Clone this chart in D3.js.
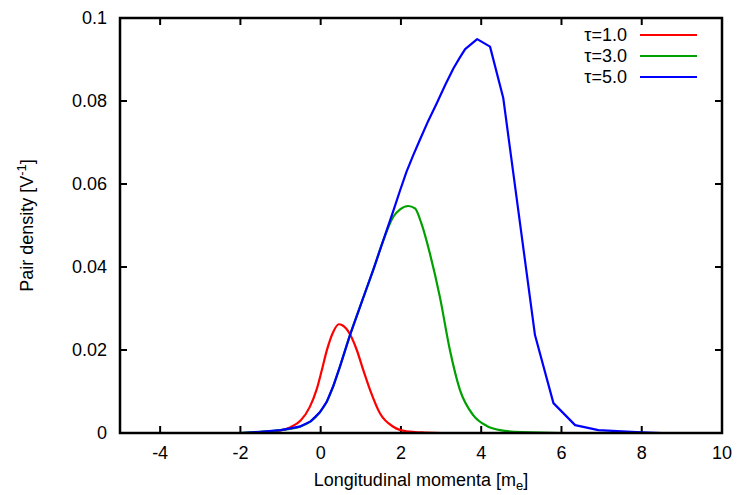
<!DOCTYPE html>
<html>
<head>
<meta charset="utf-8">
<script src="https://cdn.jsdelivr.net/npm/d3@7"></script>
<style>
  body { margin: 0; background: #fff; }
  svg { display: block; font-family: "Liberation Sans", Arial, sans-serif; }
</style>
</head>
<body>
<div id="chart-container"></div>
<script>
// curve samples: [momentum, density]
const tau1 = [[-5,0],[-2,0],[-1.5,0.0001],[-1.0,0.0006],[-0.75,0.0014],[-0.5,0.0030],[-0.27,0.0063],[-0.1,0.0105],
  [0.02,0.0148],[0.15,0.0198],[0.31,0.0243],[0.45,0.0262],[0.55,0.0259],[0.73,0.0238],[0.90,0.0200],[1.06,0.0152],
  [1.23,0.0104],[1.48,0.0047],[1.81,0.0015],[2.14,0.0004],[2.6,0.0001],[3,0],[10,0]];
const tau3 = [[-5,0],[-2,0],[-1.5,0.0003],[-1.0,0.0007],[-0.5,0.0016],[-0.25,0.0028],[-0.02,0.0050],[0.15,0.0075],
  [0.31,0.0112],[0.48,0.0160],[0.73,0.0236],[0.98,0.0304],[1.31,0.0393],[1.56,0.0464],[1.81,0.0521],[1.98,0.0539],
  [2.18,0.0547],[2.35,0.0541],[2.51,0.0505],[2.72,0.0433],[2.97,0.0328],[3.22,0.0200],[3.47,0.0104],[3.80,0.0043],
  [4.14,0.0017],[4.47,0.0007],[5.0,0.0002],[6,0],[10,0]];
const tau5 = [[-5,0],[-2,0],[-1.5,0.0003],[-1.0,0.0007],[-0.75,0.0011],[-0.5,0.0016],[-0.25,0.0028],[-0.02,0.0050],
  [0.15,0.0075],[0.31,0.0112],[0.48,0.0160],[0.73,0.0236],[0.98,0.0304],[1.15,0.0350],[1.31,0.0393],[1.56,0.0464],
  [1.81,0.0535],[1.98,0.0585],[2.14,0.0630],[2.31,0.0670],[2.47,0.0706],[2.68,0.0752],[2.89,0.0794],[3.10,0.0838],
  [3.31,0.0879],[3.47,0.0905],[3.60,0.0925],[3.90,0.0949],[4.22,0.0931],[4.55,0.0807],[5.34,0.0236],
  [5.80,0.0072],[6.34,0.0019],[6.92,0.0007],[7.87,0.0002],[8.5,0],[10,0]];

const seriesNames = ["\u03c4=1.0", "\u03c4=3.0", "\u03c4=5.0"];
const seriesColors = ["#ff0000", "#00a000", "#0000ff"];
const xTicks = [-4, -2, 0, 2, 4, 6, 8, 10];
const yTicks = [0, 0.02, 0.04, 0.06, 0.08, 0.1];

const width = 738, height = 495;
const margin = { top: 18, right: 16, bottom: 62, left: 120 };
const innerW = width - margin.left - margin.right;
const innerH = height - margin.top - margin.bottom;

const svg = d3.select("#chart-container").append("svg")
    .attr("width", width)
    .attr("height", height);

const x = d3.scaleLinear().domain([-5, 10]).range([0, innerW]);
const y = d3.scaleLinear().domain([0, 0.1]).range([innerH, 0]);

const g = svg.append("g").attr("transform", `translate(${margin.left},${margin.top})`);

const tickLen = 7;
const fontSize = "18px";

// ticks on all four sides, pointing inward
xTicks.forEach(function(t) {
    if (t === 10) return;
    g.append("line").attr("x1", x(t)).attr("x2", x(t)).attr("y1", innerH).attr("y2", innerH - tickLen)
        .attr("stroke", "#000").attr("stroke-width", 2);
    g.append("line").attr("x1", x(t)).attr("x2", x(t)).attr("y1", 0).attr("y2", tickLen)
        .attr("stroke", "#000").attr("stroke-width", 2);
});
yTicks.forEach(function(t) {
    if (t === 0 || t === 0.1) return;
    g.append("line").attr("x1", 0).attr("x2", tickLen).attr("y1", y(t)).attr("y2", y(t))
        .attr("stroke", "#000").attr("stroke-width", 2);
    g.append("line").attr("x1", innerW).attr("x2", innerW - tickLen).attr("y1", y(t)).attr("y2", y(t))
        .attr("stroke", "#000").attr("stroke-width", 2);
});

// tick labels
g.selectAll(".xl").data(xTicks).enter().append("text")
    .attr("x", d => x(d))
    .attr("y", innerH + 26)
    .attr("text-anchor", "middle")
    .attr("font-size", fontSize)
    .text(d => d);

g.selectAll(".yl").data(yTicks).enter().append("text")
    .attr("x", -13)
    .attr("y", d => y(d) + 6)
    .attr("text-anchor", "end")
    .attr("font-size", fontSize)
    .text(d => d3.format("~g")(d));

// curves
const line = d3.line().x(d => x(d[0])).y(d => y(d[1]));
const lineSmooth = d3.line().x(d => x(d[0])).y(d => y(d[1])).curve(d3.curveMonotoneX);
[tau1, tau3, tau5].forEach(function(s, i) {
    g.append("path")
        .datum(s)
        .attr("fill", "none")
        .attr("stroke", seriesColors[i])
        .attr("stroke-width", 2.2)
        .attr("stroke-linejoin", "round")
        .attr("d", i === 2 ? line : lineSmooth);
});

// frame
g.append("rect")
    .attr("width", innerW)
    .attr("height", innerH)
    .attr("fill", "none")
    .attr("stroke", "#000")
    .attr("stroke-width", 2.5);

// legend
seriesNames.forEach(function(name, i) {
    const ly = 35 + i * 21;
    svg.append("text")
        .attr("x", 627)
        .attr("y", ly + 6)
        .attr("text-anchor", "end")
        .attr("font-size", fontSize)
        .text(name);
    svg.append("line")
        .attr("x1", 640).attr("x2", 697)
        .attr("y1", ly).attr("y2", ly)
        .attr("stroke", seriesColors[i])
        .attr("stroke-width", 2.2);
});

// axis titles
const xt = svg.append("text")
    .attr("x", margin.left + innerW / 2)
    .attr("y", 486)
    .attr("text-anchor", "middle")
    .attr("font-size", fontSize);
xt.append("tspan").text("Longitudinal momenta [m");
xt.append("tspan").attr("font-size", "13px").attr("dy", 4).text("e");
xt.append("tspan").attr("dy", -4).text("]");

const yt = svg.append("text")
    .attr("transform", `translate(33,${margin.top + innerH / 2}) rotate(-90)`)
    .attr("text-anchor", "middle")
    .attr("font-size", fontSize);
yt.append("tspan").text("Pair density [V");
yt.append("tspan").attr("font-size", "13px").attr("dy", -7).text("-1");
yt.append("tspan").attr("dy", 7).text("]");
</script>
</body>
</html>
